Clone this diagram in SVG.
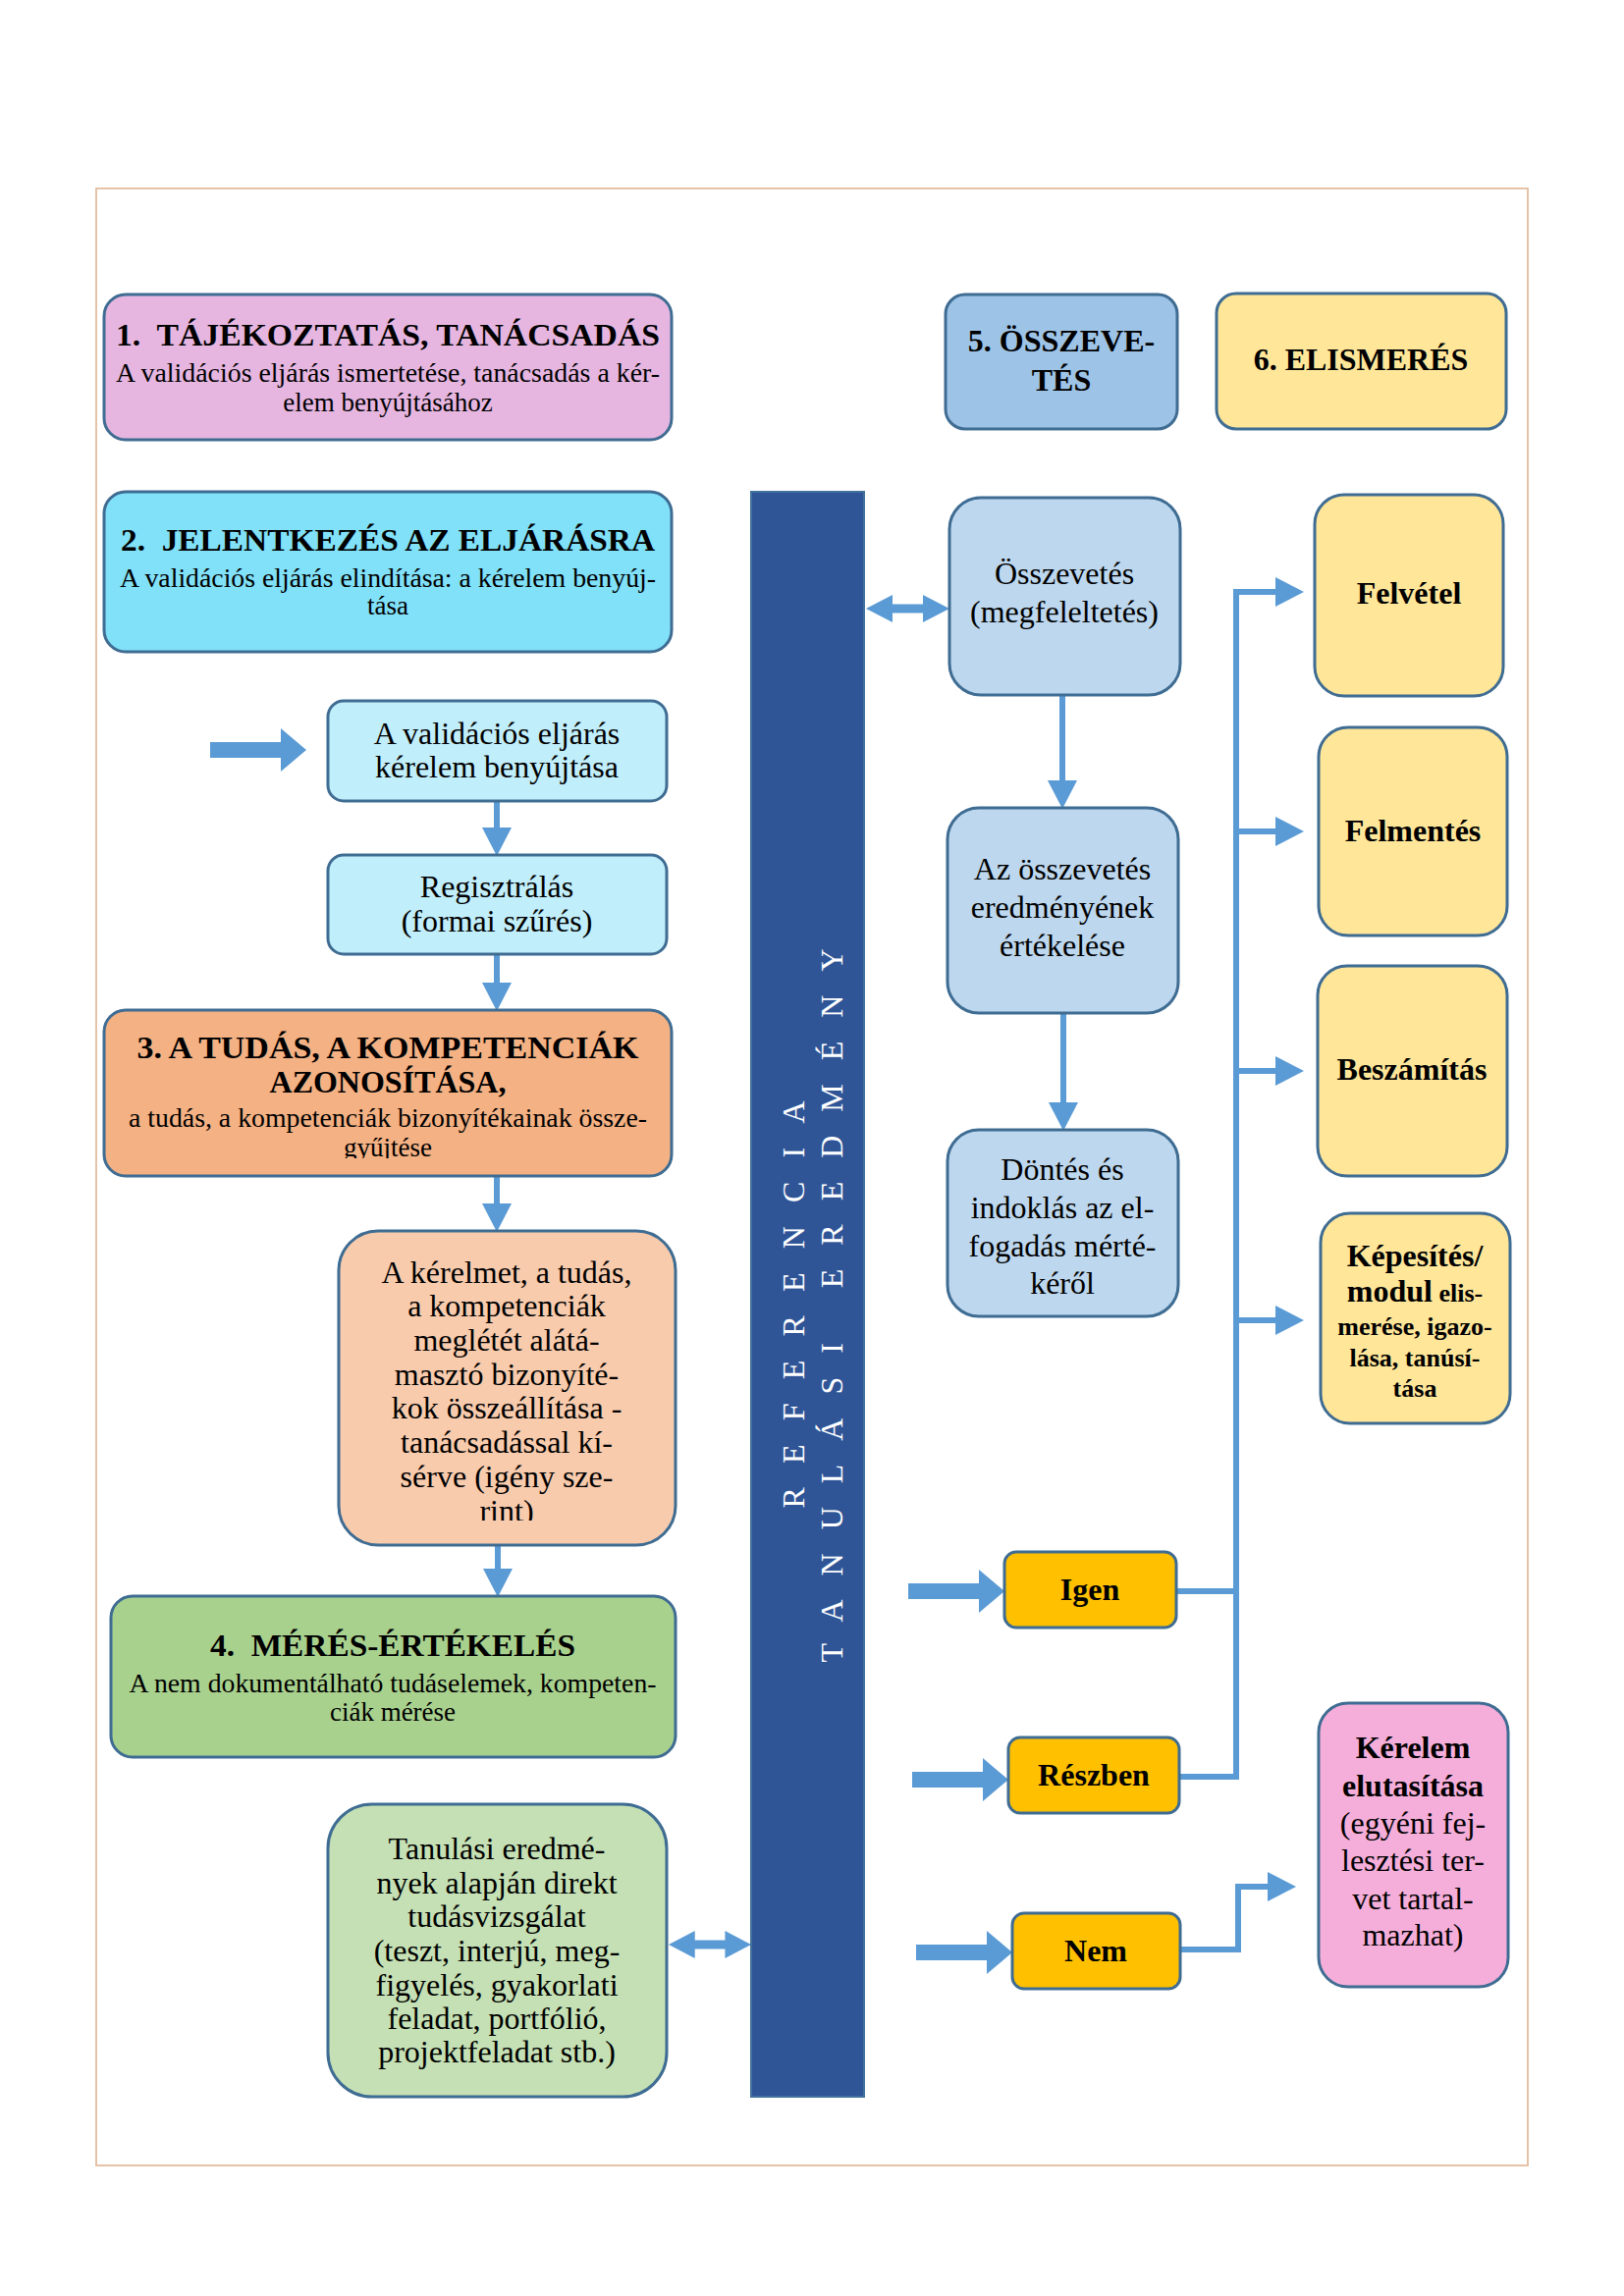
<svg xmlns="http://www.w3.org/2000/svg" width="1654" height="2339" viewBox="0 0 1654 2339">
<style>
.box{stroke:#3F6C92;stroke-width:3}
.t{font-family:"Liberation Serif","Times New Roman",serif;fill:#000;text-anchor:middle;font-size:32px}
.b{font-weight:bold}
.s{font-size:27px}
.k{font-size:26px}
.conn{stroke:#5B9BD5;stroke-width:6;fill:none}
.fill{fill:#5B9BD5}
.bar{font-family:"Liberation Serif","Times New Roman",serif;fill:#fff;font-size:32px;text-anchor:middle}
</style>
<defs>
<marker id="ah" markerUnits="userSpaceOnUse" markerWidth="30" markerHeight="30" refX="0" refY="15" orient="auto" viewBox="0 0 30 30"><path d="M0,0 L29,15 L0,30 Z" fill="#5B9BD5"/></marker>
<path id="dbl" d="M0,0 L27,-14 L27,-4.5 L58,-4.5 L58,-14 L85,0 L58,14 L58,4.5 L27,4.5 L27,14 Z"/>
<path id="blk" d="M0,-8 L72,-8 L72,-22 L98,0 L72,22 L72,8 L0,8 Z"/>
<clipPath id="c3"><rect x="106" y="1029" width="578" height="151"/></clipPath>
<clipPath id="c3a"><rect x="345" y="1254" width="343" height="295"/></clipPath>
</defs>
<rect x="0" y="0" width="1654" height="2339" fill="#fff"/>
<rect x="98" y="192" width="1458" height="2014" fill="none" stroke="#E6C3A6" stroke-width="2"/>

<g id="connectors">
<line class="conn" x1="506" y1="816" x2="506" y2="843" marker-end="url(#ah)"/>
<line class="conn" x1="506" y1="972" x2="506" y2="1001" marker-end="url(#ah)"/>
<line class="conn" x1="506" y1="1198" x2="506" y2="1226" marker-end="url(#ah)"/>
<line class="conn" x1="507" y1="1574" x2="507" y2="1598" marker-end="url(#ah)"/>
<line class="conn" x1="1082" y1="708" x2="1082" y2="795" marker-end="url(#ah)"/>
<line class="conn" x1="1083" y1="1032" x2="1083" y2="1123" marker-end="url(#ah)"/>
<path class="conn" d="M1198,1621 H1259"/>
<path class="conn" d="M1201,1810 H1259 V603 H1299" marker-end="url(#ah)"/>
<path class="conn" d="M1259,847 H1299" marker-end="url(#ah)"/>
<path class="conn" d="M1259,1091 H1299" marker-end="url(#ah)"/>
<path class="conn" d="M1259,1345 H1299" marker-end="url(#ah)"/>
<path class="conn" d="M1202,1986 H1261 V1922 H1291" marker-end="url(#ah)"/>
<use href="#dbl" class="fill" transform="translate(882,620)"/>
<use href="#dbl" class="fill" transform="translate(681,1981) scale(0.99,1)"/>
<use href="#blk" class="fill" transform="translate(214,764)"/>
<use href="#blk" class="fill" transform="translate(925,1621)"/>
<use href="#blk" class="fill" transform="translate(929,1813)"/>
<use href="#blk" class="fill" transform="translate(933,1989)"/>
</g>

<g id="n1">
<rect class="box" x="106" y="300" width="578" height="148" rx="22" fill="#E6B6E0"/>
<text class="t b" x="395" y="352" textLength="554" lengthAdjust="spacingAndGlyphs">1.&#160; TÁJÉKOZTATÁS, TANÁCSADÁS</text>
<text class="t s" x="395" y="389" textLength="554" lengthAdjust="spacingAndGlyphs">A validációs eljárás ismertetése, tanácsadás a kér-</text>
<text class="t s" x="395" y="419">elem benyújtásához</text>
</g>

<g id="n2">
<rect class="box" x="106" y="501" width="578" height="163" rx="22" fill="#80E1F9"/>
<text class="t b" x="395" y="561" textLength="544" lengthAdjust="spacingAndGlyphs">2.&#160; JELENTKEZÉS AZ ELJÁRÁSRA</text>
<text class="t s" x="395" y="598" textLength="546" lengthAdjust="spacingAndGlyphs">A validációs eljárás elindítása: a kérelem benyúj-</text>
<text class="t s" x="395" y="626">tása</text>
</g>

<g id="n2a">
<rect class="box" x="334" y="714" width="345" height="102" rx="16" fill="#C1EEFB"/>
<text class="t" x="506" y="758">A validációs eljárás</text>
<text class="t" x="506" y="792">kérelem benyújtása</text>
</g>

<g id="n2b">
<rect class="box" x="334" y="871" width="345" height="101" rx="16" fill="#C1EEFB"/>
<text class="t" x="506" y="914">Regisztrálás</text>
<text class="t" x="506" y="949">(formai szűrés)</text>
</g>

<g id="n3">
<rect class="box" x="106" y="1029" width="578" height="169" rx="22" fill="#F4B183"/>
<g clip-path="url(#c3)">
<text class="t b" x="395" y="1078" textLength="511" lengthAdjust="spacingAndGlyphs">3. A TUDÁS, A KOMPETENCIÁK</text>
<text class="t b" x="395" y="1113">AZONOSÍTÁSA,</text>
<text class="t s" x="395" y="1148" textLength="528" lengthAdjust="spacingAndGlyphs">a tudás, a kompetenciák bizonyítékainak össze-</text>
<text class="t s" x="395" y="1178">gyűjtése</text>
</g>
</g>

<g id="n3a">
<rect class="box" x="345" y="1254" width="343" height="320" rx="40" fill="#F8CBAD"/>
<g clip-path="url(#c3a)">
<text class="t" x="516" y="1307">A kérelmet, a tudás,</text>
<text class="t" x="516" y="1341">a kompetenciák</text>
<text class="t" x="516" y="1376">meglétét alátá-</text>
<text class="t" x="516" y="1411">masztó bizonyíté-</text>
<text class="t" x="516" y="1445">kok összeállítása -</text>
<text class="t" x="516" y="1480">tanácsadással kí-</text>
<text class="t" x="516" y="1515">sérve (igény sze-</text>
<text class="t" x="516" y="1550">rint)</text>
</g>
</g>

<g id="n4">
<rect class="box" x="113" y="1626" width="575" height="164" rx="22" fill="#A9D18E"/>
<text class="t b" x="400" y="1687" textLength="372" lengthAdjust="spacingAndGlyphs">4.&#160; MÉRÉS-ÉRTÉKELÉS</text>
<text class="t s" x="400" y="1724" textLength="537" lengthAdjust="spacingAndGlyphs">A nem dokumentálható tudáselemek, kompeten-</text>
<text class="t s" x="400" y="1753">ciák mérése</text>
</g>

<g id="n4a">
<rect class="box" x="334" y="1838" width="345" height="298" rx="45" fill="#C5E0B4"/>
<text class="t" x="506" y="1894">Tanulási eredmé-</text>
<text class="t" x="506" y="1929">nyek alapján direkt</text>
<text class="t" x="506" y="1963">tudásvizsgálat</text>
<text class="t" x="506" y="1998">(teszt, interjú, meg-</text>
<text class="t" x="506" y="2033">figyelés, gyakorlati</text>
<text class="t" x="506" y="2067">feladat, portfólió,</text>
<text class="t" x="506" y="2101">projektfeladat stb.)</text>
</g>

<g id="bar">
<rect x="765" y="501" width="115" height="1635" fill="#2F5597" stroke="#41719C" stroke-width="2"/>
<text class="bar" transform="translate(819,1329) rotate(-90)" textLength="415" lengthAdjust="spacing">REFERENCIA</text>
<text class="bar" transform="translate(858,1330) rotate(-90)" textLength="727" lengthAdjust="spacing">TANULÁSI EREDMÉNY</text>
</g>

<g id="n5">
<rect class="box" x="963" y="300" width="236" height="137" rx="20" fill="#9DC3E6"/>
<text class="t b" x="1081" y="358">5. ÖSSZEVE-</text>
<text class="t b" x="1081" y="398">TÉS</text>
</g>

<g id="n6">
<rect class="box" x="1239" y="299" width="295" height="138" rx="20" fill="#FFE699"/>
<text class="t b" x="1386" y="377">6. ELISMERÉS</text>
</g>

<g id="n5a">
<rect class="box" x="967" y="507" width="235" height="201" rx="32" fill="#BDD7EE"/>
<text class="t" x="1084" y="595">Összevetés</text>
<text class="t" x="1084" y="634">(megfeleltetés)</text>
</g>

<g id="n5b">
<rect class="box" x="965" y="823" width="235" height="209" rx="32" fill="#BDD7EE"/>
<text class="t" x="1082" y="896">Az összevetés</text>
<text class="t" x="1082" y="935">eredményének</text>
<text class="t" x="1082" y="974">értékelése</text>
</g>

<g id="n5c">
<rect class="box" x="965" y="1151" width="235" height="190" rx="32" fill="#BDD7EE"/>
<text class="t" x="1082" y="1202">Döntés és</text>
<text class="t" x="1082" y="1241">indoklás az el-</text>
<text class="t" x="1082" y="1280">fogadás mérté-</text>
<text class="t" x="1082" y="1318">kéről</text>
</g>

<g id="n6a">
<rect class="box" x="1339" y="504" width="192" height="205" rx="30" fill="#FFE699"/>
<text class="t b" x="1435" y="615">Felvétel</text>
</g>

<g id="n6b">
<rect class="box" x="1343" y="741" width="192" height="212" rx="30" fill="#FFE699"/>
<text class="t b" x="1439" y="857">Felmentés</text>
</g>

<g id="n6c">
<rect class="box" x="1342" y="984" width="193" height="214" rx="30" fill="#FFE699"/>
<text class="t b" x="1438" y="1100">Beszámítás</text>
</g>

<g id="n6d">
<rect class="box" x="1345" y="1236" width="193" height="214" rx="30" fill="#FFE699"/>
<text class="t b" x="1441" y="1290">Képesítés/</text>
<text class="t b" x="1441" y="1326">modul<tspan class="k"> elis-</tspan></text>
<text class="t b k" x="1441" y="1360">merése, igazo-</text>
<text class="t b k" x="1441" y="1392">lása, tanúsí-</text>
<text class="t b k" x="1441" y="1423">tása</text>
</g>

<g id="n7">
<rect class="box" x="1343" y="1735" width="193" height="289" rx="30" fill="#F5AEDA"/>
<text class="t b" x="1439" y="1791">Kérelem</text>
<text class="t b" x="1439" y="1830">elutasítása</text>
<text class="t" x="1439" y="1868">(egyéni fej-</text>
<text class="t" x="1439" y="1906">lesztési ter-</text>
<text class="t" x="1439" y="1945">vet tartal-</text>
<text class="t" x="1439" y="1982">mazhat)</text>
</g>

<g id="igen">
<rect class="box" x="1023" y="1581" width="175" height="77" rx="12" fill="#FFC000"/>
<text class="t b" x="1110" y="1630">Igen</text>
</g>

<g id="reszben">
<rect class="box" x="1027" y="1770" width="174" height="77" rx="12" fill="#FFC000"/>
<text class="t b" x="1114" y="1819">Részben</text>
</g>

<g id="nem">
<rect class="box" x="1031" y="1949" width="171" height="77" rx="12" fill="#FFC000"/>
<text class="t b" x="1116" y="1998">Nem</text>
</g>
</svg>
